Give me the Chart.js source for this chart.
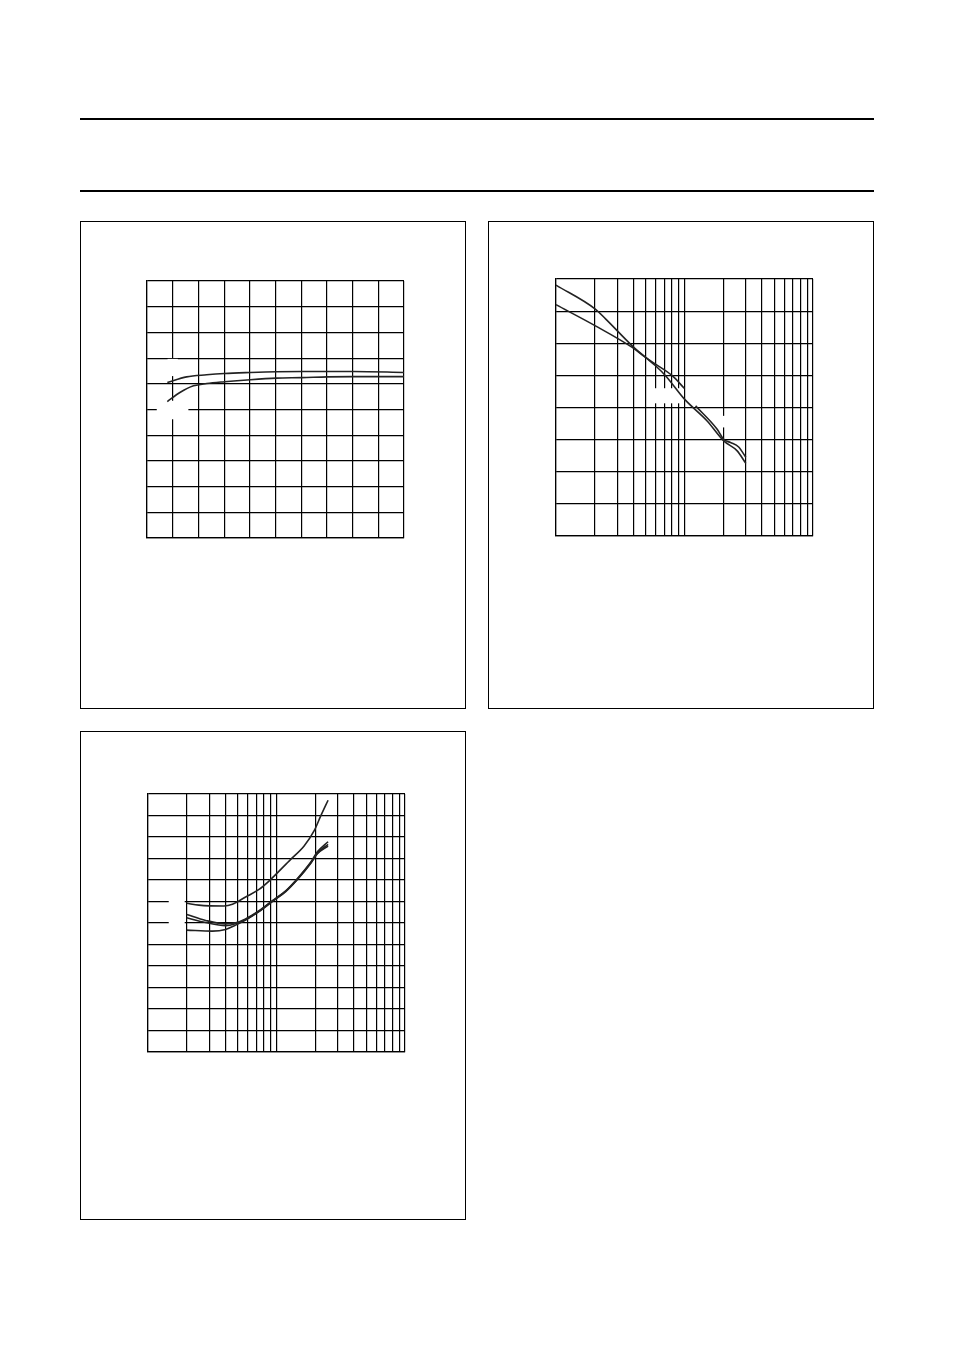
<!DOCTYPE html>
<html>
<head>
<meta charset="utf-8">
<script src="https://cdn.jsdelivr.net/npm/chart.js@4.4.1/dist/chart.umd.min.js"></script>
<style>
  html, body { margin: 0; padding: 0; background: #fff; }
  body { width: 954px; height: 1350px; position: relative; overflow: hidden; font-family: "Liberation Sans", Arial, sans-serif; }
  .rule { position: absolute; left: 80px; width: 794px; height: 2px; background: #000; }
  .box { position: absolute; box-sizing: border-box; border: 1px solid #000; background: #fff; }
  .plot { position: absolute; }
  .plot canvas { display: block; }
</style>
</head>
<body>
<div class="rule" style="top:118px"></div>
<div class="rule" style="top:190px"></div>

<div class="box" style="left:80px; top:221px; width:386px; height:488px"></div>
<div class="box" style="left:488px; top:221px; width:386px; height:488px"></div>
<div class="box" style="left:80px; top:731px; width:386px; height:489px"></div>

<div class="plot" style="left:142px; top:276px; width:268px; height:268px"><canvas id="c1" width="268" height="268"></canvas></div>
<div class="plot" style="left:551px; top:274px; width:268px; height:268px"><canvas id="c2" width="268" height="268"></canvas></div>
<div class="plot" style="left:143px; top:789px; width:268px; height:269px"><canvas id="c3" width="268" height="269"></canvas></div>

<script>
// ---------- Chart 1 (linear x 0..10, linear y 0..10) ----------
const c1XTicks = [0, 1, 2, 3, 4, 5, 6, 7, 8, 9, 10];
const c1YTicks = [0, 1, 2, 3, 4, 5, 6, 7, 8, 9, 10];
const c1UpperX = [0.79, 1.54, 2.32, 3.01, 4.02, 5.03, 6.03, 8.03, 10];
const c1UpperY = [6.05, 6.27, 6.35, 6.40, 6.44, 6.47, 6.48, 6.48, 6.44];
const c1LowerX = [0.79, 1.28, 1.81, 2.32, 3.01, 4.02, 5.03, 6.03, 7.02, 8.03, 10];
const c1LowerY = [5.31, 5.66, 5.92, 6.01, 6.08, 6.16, 6.22, 6.24, 6.27, 6.28, 6.28];
const c1Gaps = [
  { x0: 0.38, x1: 1.61, y0: 4.62, y1: 5.34 },
  { x0: 0.80, x1: 1.20, y0: 6.30, y1: 6.97 }
];

// ---------- Chart 2 (log x 1..100, linear y 0..8) ----------
const c2XTicks = [1, 2, 3, 4, 5, 6, 7, 8, 9, 10, 20, 30, 40, 50, 60, 70, 80, 90, 100];
const c2YTicks = [0, 1, 2, 3, 4, 5, 6, 7, 8];
const c2AX = [1, 2.01, 2.43, 3.92, 4.98, 5.95, 7.12, 10, 15, 20.2, 25.7, 30];
const c2AY = [7.81, 7.07, 6.76, 5.92, 5.56, 5.30, 4.99, 4.26, 3.58, 2.96, 2.65, 2.26];
const c2BX = [1, 2.01, 3.92, 4.98, 5.95, 8.03, 10];
const c2BY = [7.20, 6.55, 5.87, 5.56, 5.35, 4.99, 4.59];
const c2CX = [12.2, 17.9, 20.2, 22.8, 26.4, 30];
const c2CY = [4.05, 3.33, 3.01, 2.91, 2.77, 2.45];
const c2Gaps = [
  { x0: 5.6, x1: 9.4, y0: 4.13, y1: 4.60 },
  { x0: 17, x1: 24, y0: 3.38, y1: 3.74 }
];

// ---------- Chart 3 (log x 1..100, linear y 0..12) ----------
const c3XTicks = [1, 2, 3, 4, 5, 6, 7, 8, 9, 10, 20, 30, 40, 50, 60, 70, 80, 90, 100];
const c3YTicks = [0, 1, 2, 3, 4, 5, 6, 7, 8, 9, 10, 11, 12];
const c3UpX = [2, 2.49, 3.90, 4.54, 5.75, 7.31, 8.74, 12.9, 16.4, 19.6, 22.1, 25.2];
const c3UpY = [6.92, 6.83, 6.79, 6.87, 7.21, 7.56, 7.95, 8.96, 9.58, 10.28, 10.98, 11.71];
const c3L1X = [2, 2.81, 4.02, 4.81, 5.75, 7.31, 9.29, 11.8, 14.5, 18.5, 20.8, 25.2];
const c3L1Y = [6.40, 6.12, 5.96, 6.01, 6.19, 6.57, 7.04, 7.50, 8.06, 8.84, 9.31, 9.78];
const c3L2X = [2, 2.81, 4.02, 4.81, 5.75, 7.31, 9.29, 11.8, 14.5, 18.5, 20.8, 25.2];
const c3L2Y = [6.24, 6.02, 5.88, 5.97, 6.16, 6.55, 7.02, 7.48, 8.03, 8.80, 9.25, 9.66];
const c3L3X = [2, 3.17, 4.02, 4.81, 5.75, 7.31, 9.29, 11.8, 14.5, 18.5, 20.8, 25.2];
const c3L3Y = [5.67, 5.62, 5.70, 5.90, 6.14, 6.53, 7.00, 7.46, 8.01, 8.78, 9.22, 9.58];
const c3Gaps = [
  { x0: 1.45, x1: 1.93, y0: 5.6, y1: 7.4 }
];

// ---------- helpers ----------
const GRID = '#000';
const CURVE = '#222';

function pts(xs, ys) { return xs.map((x, i) => ({ x: x, y: ys[i] })); }

function curve(xs, ys) {
  return {
    data: pts(xs, ys),
    showLine: true,
    borderColor: CURVE,
    borderWidth: 1.6,
    pointRadius: 0,
    cubicInterpolationMode: 'monotone',
    fill: false
  };
}

const gapPlugin = {
  id: 'gaps',
  beforeDatasetsDraw(chart, args, opts) {
    const gaps = opts.gaps || [];
    const xs = chart.scales.x, ys = chart.scales.y;
    const ctx = chart.ctx;
    ctx.save();
    ctx.fillStyle = '#fff';
    gaps.forEach(g => {
      const l = xs.getPixelForValue(g.x0), r = xs.getPixelForValue(g.x1);
      const t = ys.getPixelForValue(g.y1), b = ys.getPixelForValue(g.y0);
      ctx.fillRect(l, t, r - l, b - t);
    });
    ctx.restore();
  }
};

function axis(type, ticks) {
  return {
    type: type,
    min: ticks[0],
    max: ticks[ticks.length - 1],
    afterBuildTicks: (s) => { s.ticks = ticks.map(v => ({ value: v })); },
    ticks: { display: false, autoSkip: false },
    grid: { color: GRID, lineWidth: 1.2, drawTicks: false, tickLength: 0 },
    border: { display: true, color: GRID, width: 1.2 },
    title: { display: false }
  };
}

function makeChart(id, xType, xTicks, yTicks, datasets, gaps) {
  return new Chart(document.getElementById(id), {
    type: 'scatter',
    data: { datasets: datasets },
    options: {
      responsive: false,
      animation: false,
      devicePixelRatio: 1,
      layout: { padding: { left: 5, top: 5, right: 6, bottom: 6 } },
      scales: { x: axis(xType, xTicks), y: axis('linear', yTicks) },
      plugins: { legend: { display: false }, tooltip: { enabled: false }, gaps: { gaps: gaps } },
      events: []
    },
    plugins: [gapPlugin]
  });
}

makeChart('c1', 'linear', c1XTicks, c1YTicks,
  [curve(c1UpperX, c1UpperY), curve(c1LowerX, c1LowerY)], c1Gaps);

makeChart('c2', 'logarithmic', c2XTicks, c2YTicks,
  [curve(c2AX, c2AY), curve(c2BX, c2BY), curve(c2CX, c2CY)], c2Gaps);

makeChart('c3', 'logarithmic', c3XTicks, c3YTicks,
  [curve(c3UpX, c3UpY), curve(c3L1X, c3L1Y), curve(c3L2X, c3L2Y), curve(c3L3X, c3L3Y)], c3Gaps);
</script>
</body>
</html>
